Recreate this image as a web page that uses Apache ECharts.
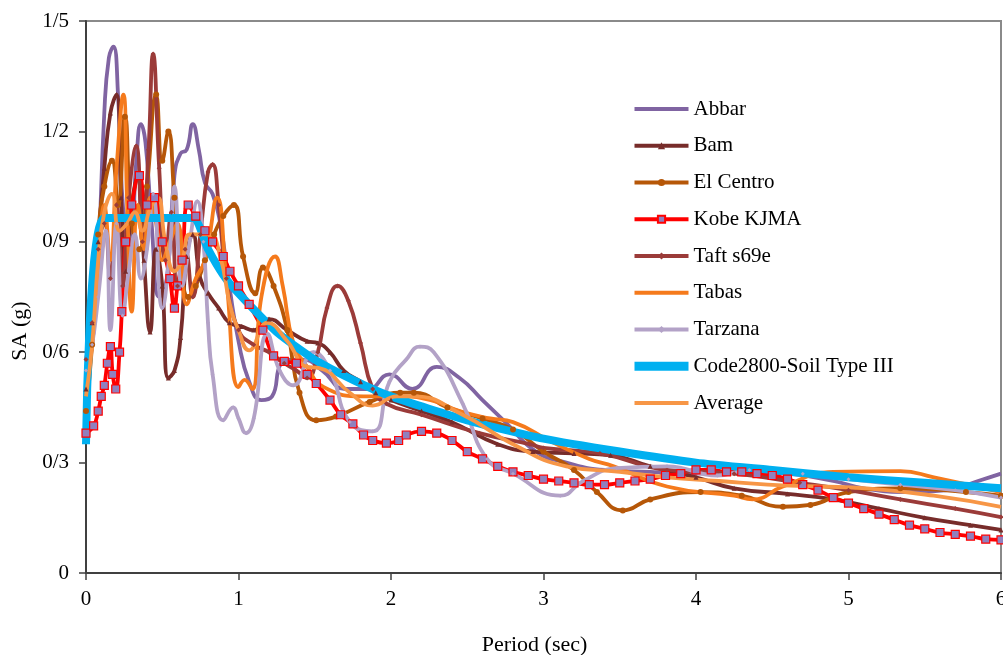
<!DOCTYPE html>
<html>
<head>
<meta charset="utf-8">
<script src="https://cdn.jsdelivr.net/npm/echarts@6/dist/echarts.min.js"></script>
<style>html,body{margin:0;padding:0;background:#fff;}#c{width:1003px;height:655px;}</style>
</head>
<body>
<div id="c"></div>
<script>
// Tick labels (Persian-style decimal separator "/")
var yTickLabels = ['0', '0/3', '0/6', '0/9', '1/2', '1/5'];
var xTickLabels = ['0', '1', '2', '3', '4', '5', '6'];
var seriesNames = ['Abbar', 'Bam', 'El Centro', 'Kobe KJMA', 'Taft s69e', 'Tabas', 'Tarzana', 'Code2800-Soil Type III', 'Average'];

var abbarT  = [0, 0.04, 0.08, 0.12, 0.15, 0.18, 0.21, 0.25, 0.29, 0.33, 0.36, 0.39, 0.43, 0.48, 0.53, 0.58, 0.62, 0.66, 0.70, 0.74, 0.78, 0.83, 0.88, 0.94, 1.0, 1.07, 1.15, 1.22, 1.28, 1.35, 1.42, 1.55, 1.7, 1.85, 1.99, 2.14, 2.3, 2.45, 2.6, 2.75, 2.95, 3.15, 3.4, 3.7, 4.0, 4.3, 4.6, 4.9, 5.1, 5.4, 5.65, 5.85, 6.0];
var abbarSA = [0.56, 0.62, 0.85, 1.25, 1.40, 1.43, 1.30, 0.95, 0.9, 1.12, 1.22, 1.17, 0.95, 0.75, 0.8, 1.08, 1.14, 1.15, 1.22, 1.15, 1.06, 1.03, 0.95, 0.78, 0.63, 0.52, 0.47, 0.48, 0.57, 0.58, 0.58, 0.55, 0.5, 0.5, 0.54, 0.50, 0.56, 0.53, 0.47, 0.41, 0.33, 0.30, 0.28, 0.275, 0.27, 0.275, 0.27, 0.25, 0.23, 0.22, 0.225, 0.25, 0.27];

var bamT  = [0, 0.04, 0.08, 0.12, 0.16, 0.2, 0.23, 0.26, 0.3, 0.34, 0.38, 0.42, 0.46, 0.5, 0.54, 0.58, 0.62, 0.66, 0.7, 0.75, 0.8, 0.87, 0.94, 1.02, 1.1, 1.2, 1.32, 1.45, 1.52, 1.6, 1.69, 1.8, 1.9, 2.0, 2.2, 2.4, 2.7, 2.93, 3.2, 3.44, 3.7, 4.0, 4.25, 4.6, 4.9, 5.2, 5.5, 5.8, 6.0];
var bamSA = [0.50, 0.68, 0.9, 1.1, 1.25, 1.30, 1.02, 0.82, 1.0, 1.08, 0.85, 0.655, 0.88, 0.78, 0.53, 0.55, 0.64, 0.86, 0.92, 0.8, 0.76, 0.72, 0.68, 0.67, 0.66, 0.69, 0.66, 0.63, 0.625, 0.6, 0.55, 0.52, 0.49, 0.47, 0.44, 0.41, 0.35, 0.33, 0.325, 0.32, 0.29, 0.26, 0.23, 0.215, 0.20, 0.175, 0.15, 0.13, 0.117];

var elCentroT  = [0, 0.04, 0.08, 0.12, 0.17, 0.21, 0.255, 0.3, 0.35, 0.4, 0.46, 0.5, 0.54, 0.58, 0.62, 0.67, 0.72, 0.78, 0.84, 0.9, 0.97, 1.03, 1.11, 1.16, 1.23, 1.32, 1.4, 1.51, 1.64, 1.86, 2.06, 2.15, 2.37, 2.6, 2.8, 3.0, 3.2, 3.35, 3.52, 3.7, 4.03, 4.3, 4.57, 4.75, 5.0, 5.34, 5.77, 6.0];
var elCentroSA = [0.44, 0.62, 0.92, 1.05, 1.12, 1.0, 1.24, 0.95, 0.88, 1.05, 1.30, 1.12, 1.20, 1.02, 0.85, 0.75, 0.78, 0.85, 0.92, 0.97, 1.0, 0.86, 0.76, 0.83, 0.78, 0.66, 0.49, 0.415, 0.425, 0.465, 0.49, 0.49, 0.45, 0.42, 0.39, 0.33, 0.28, 0.22, 0.17, 0.2, 0.22, 0.21, 0.18, 0.185, 0.22, 0.23, 0.22, 0.21];

var kobeT  = [0, 0.05, 0.08, 0.1, 0.12, 0.14, 0.16, 0.175, 0.195, 0.22, 0.235, 0.26, 0.3, 0.35, 0.4, 0.45, 0.5, 0.55, 0.58, 0.6, 0.63, 0.67, 0.72, 0.78, 0.83, 0.9, 0.944, 1.0, 1.07, 1.16, 1.23, 1.3, 1.38, 1.45, 1.51, 1.6, 1.67, 1.75, 1.82, 1.88, 1.97, 2.05, 2.1, 2.2, 2.3, 2.4, 2.5, 2.6, 2.7, 2.8, 2.9, 3.0, 3.1, 3.2, 3.3, 3.4, 3.5, 3.6, 3.7, 3.8, 3.9, 4.0, 4.1, 4.2, 4.3, 4.4, 4.5, 4.6, 4.7, 4.8, 4.9, 5.0, 5.1, 5.2, 5.3, 5.4, 5.5, 5.6, 5.7, 5.8, 5.9, 6.0];
var kobeSA = [0.38, 0.40, 0.44, 0.48, 0.51, 0.57, 0.615, 0.54, 0.50, 0.60, 0.71, 0.9, 1.0, 1.08, 1.0, 1.02, 0.9, 0.8, 0.72, 0.78, 0.85, 1.0, 0.97, 0.93, 0.9, 0.86, 0.82, 0.78, 0.73, 0.66, 0.59, 0.575, 0.57, 0.54, 0.515, 0.47, 0.43, 0.405, 0.375, 0.36, 0.353, 0.36, 0.375, 0.385, 0.38, 0.36, 0.33, 0.31, 0.29, 0.275, 0.265, 0.255, 0.25, 0.245, 0.24, 0.24, 0.245, 0.25, 0.255, 0.265, 0.27, 0.28, 0.28, 0.275, 0.275, 0.27, 0.265, 0.255, 0.24, 0.225, 0.205, 0.19, 0.175, 0.16, 0.145, 0.13, 0.12, 0.11, 0.105, 0.1, 0.092, 0.09];

var taftT  = [0, 0.04, 0.08, 0.12, 0.16, 0.2, 0.24, 0.28, 0.33, 0.37, 0.41, 0.44, 0.48, 0.52, 0.56, 0.6, 0.65, 0.7, 0.75, 0.8, 0.83, 0.87, 0.92, 1.0, 1.1, 1.2, 1.3, 1.38, 1.45, 1.52, 1.58, 1.65, 1.72, 1.8, 1.88, 1.97, 2.2, 2.58, 2.91, 3.0, 3.37, 3.81, 4.25, 4.68, 5.0, 5.34, 5.7, 6.0];
var taftSA = [0.58, 0.68, 0.88, 0.95, 0.8, 1.0, 0.78, 1.02, 1.16, 0.9, 1.15, 1.41, 1.1, 0.85, 0.98, 0.78, 0.88, 0.75, 0.92, 1.09, 1.11, 1.0, 0.8, 0.66, 0.62, 0.6, 0.57, 0.55, 0.53, 0.6, 0.72, 0.78, 0.74, 0.625, 0.5, 0.46, 0.43, 0.38, 0.35, 0.34, 0.325, 0.28, 0.27, 0.245, 0.225, 0.2, 0.175, 0.152];

var tabasT  = [0, 0.04, 0.08, 0.12, 0.16, 0.2, 0.245, 0.27, 0.3, 0.34, 0.38, 0.42, 0.46, 0.5, 0.55, 0.6, 0.66, 0.72, 0.78, 0.86, 0.92, 1.0, 1.04, 1.09, 1.15, 1.24, 1.29, 1.36, 1.45, 1.56, 1.82, 2.04, 2.26, 2.45, 2.65, 2.8, 3.06, 3.3, 3.46, 3.81, 4.25, 4.37, 4.57, 4.9, 5.34, 5.56, 6.0];
var tabasSA = [0.5, 0.62, 0.8, 1.0, 0.85, 1.1, 1.30, 1.0, 0.71, 1.0, 0.88, 1.02, 0.95, 0.85, 0.9, 0.95, 0.73, 0.8, 0.85, 1.02, 0.8, 0.505, 0.525, 0.50, 0.75, 0.86, 0.78, 0.625, 0.56, 0.505, 0.48, 0.48, 0.47, 0.44, 0.42, 0.41, 0.355, 0.31, 0.29, 0.235, 0.21, 0.2, 0.235, 0.275, 0.277, 0.26, 0.22];

var tarzanaT  = [0, 0.04, 0.08, 0.13, 0.16, 0.2, 0.24, 0.28, 0.32, 0.36, 0.4, 0.44, 0.5, 0.55, 0.58, 0.63, 0.68, 0.73, 0.77, 0.8, 0.83, 0.9, 0.965, 1.0, 1.05, 1.1, 1.19, 1.27, 1.36, 1.49, 1.6, 1.73, 1.88, 1.99, 2.1, 2.19, 2.28, 2.47, 2.63, 2.8, 3.11, 3.26, 3.48, 3.81, 4.14, 4.35, 4.7, 5.0, 5.34, 5.7, 6.0];
var tarzanaSA = [0.55, 0.62, 0.75, 0.93, 0.66, 0.95, 0.70, 0.82, 0.92, 0.8, 0.88, 1.03, 0.72, 0.88, 1.05, 0.78, 0.9, 1.01, 0.9, 0.68, 0.54, 0.415, 0.45, 0.42, 0.38, 0.42, 0.65, 0.55, 0.51, 0.6, 0.55, 0.41, 0.385, 0.52, 0.58, 0.615, 0.60, 0.46, 0.31, 0.27, 0.21, 0.25, 0.285, 0.29, 0.265, 0.28, 0.27, 0.255, 0.24, 0.225, 0.205];

var codeT  = [0, 0.12, 0.7, 0.8, 0.9, 1.0, 1.25, 1.5, 1.75, 2.0, 2.5, 3.0, 3.5, 4.0, 4.5, 5.0, 5.5, 6.0];
var codeSA = [0.35, 0.965, 0.965, 0.88, 0.81, 0.76, 0.655, 0.58, 0.525, 0.48, 0.415, 0.365, 0.33, 0.30, 0.28, 0.26, 0.245, 0.23];

var averageT  = [0, 0.04, 0.08, 0.12, 0.17, 0.22, 0.27, 0.32, 0.37, 0.42, 0.47, 0.52, 0.58, 0.63, 0.68, 0.74, 0.81, 0.88, 0.944, 1.0, 1.07, 1.19, 1.32, 1.45, 1.53, 1.73, 1.88, 2.04, 2.15, 2.47, 2.8, 3.15, 3.5, 3.81, 4.15, 4.47, 4.8, 5.12, 5.56, 6.0];
var averageSA = [0.48, 0.62, 0.85, 0.98, 1.03, 0.93, 0.95, 0.98, 0.93, 0.99, 1.02, 0.9, 0.82, 0.85, 0.92, 0.92, 0.92, 0.86, 0.73, 0.66, 0.605, 0.68, 0.63, 0.56, 0.557, 0.49, 0.455, 0.48, 0.48, 0.43, 0.35, 0.29, 0.275, 0.26, 0.25, 0.24, 0.235, 0.23, 0.21, 0.18];

function pairs(t, v) { return t.map(function (x, i) { return [x, v[i]]; }); }

var FONT = "'Liberation Serif', 'Times New Roman', serif";
var LW = 3.8;

function mk(name, t, v, color, width, extra) {
  var s = {
    name: name, type: 'line', data: pairs(t, v), smooth: 0.5,
    showSymbol: false, symbol: 'none',
    lineStyle: { color: color, width: width },
    itemStyle: { color: color },
    emphasis: { disabled: true }
  };
  if (extra) { for (var k in extra) s[k] = extra[k]; }
  return s;
}

function legendItem(name, width, hideSymbol) {
  var it = { name: name, lineStyle: { width: width } };
  if (hideSymbol) it.itemStyle = { opacity: 0 };
  return it;
}

var chart = echarts.init(document.getElementById('c'), null, { renderer: 'canvas' });
chart.setOption({
  animation: false,
  backgroundColor: '#ffffff',
  grid: { left: 86, right: 2, top: 21, bottom: 82, outerBoundsMode: 'none', containLabel: false,
    show: true, borderColor: '#8a8a8a', borderWidth: 2, backgroundColor: 'transparent' },
  legend: {
    orient: 'vertical', left: 625, top: 93.5,
    itemWidth: 54, itemHeight: 9, itemGap: 15.75,
    data: [
      legendItem(seriesNames[0], 4, true),
      legendItem(seriesNames[1], 4, false),
      legendItem(seriesNames[2], 4, false),
      legendItem(seriesNames[3], 4, false),
      legendItem(seriesNames[4], 4, false),
      legendItem(seriesNames[5], 4, true),
      legendItem(seriesNames[6], 4, false),
      legendItem(seriesNames[7], 9, true),
      legendItem(seriesNames[8], 4, true)
    ],
    textStyle: { fontFamily: FONT, fontSize: 21, color: '#000' }
  },
  xAxis: {
    type: 'value', min: 0, max: 6, interval: 1,
    name: 'Period (sec)', nameLocation: 'middle', nameGap: 61,
    nameTextStyle: { fontFamily: FONT, fontSize: 22, color: '#000', padding: [0, 18, 0, 0] },
    axisLine: { show: true, onZero: false, lineStyle: { color: '#404040', width: 2 } },
    axisTick: { show: true, inside: false, length: 7, lineStyle: { color: '#404040', width: 1.5 } },
    axisLabel: { margin: 16, fontFamily: FONT, fontSize: 21, color: '#000', hideOverlap: false,
      showMaxLabel: true, showMinLabel: true,
      formatter: function (v) { return xTickLabels[Math.round(v)]; } },
    splitLine: { show: false }
  },
  yAxis: {
    type: 'value', min: 0, max: 1.5, interval: 0.3,
    name: 'SA (g)', nameLocation: 'middle', nameGap: 54, nameRotate: 90,
    nameTextStyle: { fontFamily: FONT, fontSize: 22, color: '#000', padding: [0, 68, 0, 0] },
    axisLine: { show: true, lineStyle: { color: '#404040', width: 2 } },
    axisTick: { show: true, inside: false, length: 7, lineStyle: { color: '#404040', width: 1.5 } },
    axisLabel: { margin: 17, fontFamily: FONT, fontSize: 21, color: '#000',
      formatter: function (v) { return yTickLabels[Math.round(v / 0.3)]; } },
    splitLine: { show: false }
  },
  series: [
    mk(seriesNames[0], abbarT, abbarSA, '#8064A2', LW),
    mk(seriesNames[1], bamT, bamSA, '#772C2A', LW, { showSymbol: true, symbol: 'triangle', symbolSize: 5 }),
    mk(seriesNames[2], elCentroT, elCentroSA, '#B65708', LW, { showSymbol: true, symbol: 'circle', symbolSize: 6 }),
    mk(seriesNames[3], kobeT, kobeSA, '#FF0000', LW, { showSymbol: true, symbol: 'rect', symbolSize: 8,
      itemStyle: { color: '#9080BE', borderColor: '#FF0000', borderWidth: 1.2 } }),
    mk(seriesNames[4], taftT, taftSA, '#9B3B39', LW, { showSymbol: true, symbol: 'diamond', symbolSize: 5 }),
    mk(seriesNames[5], tabasT, tabasSA, '#F57A1C', LW),
    mk(seriesNames[6], tarzanaT, tarzanaSA, '#B3A2C7', LW, { showSymbol: true, symbol: 'diamond', symbolSize: 4 }),
    mk(seriesNames[7], codeT, codeSA, '#00B0F0', 8, { smooth: 0.2 }),
    mk(seriesNames[8], averageT, averageSA, '#F79646', LW)
  ]
});
</script>
</body>
</html>
